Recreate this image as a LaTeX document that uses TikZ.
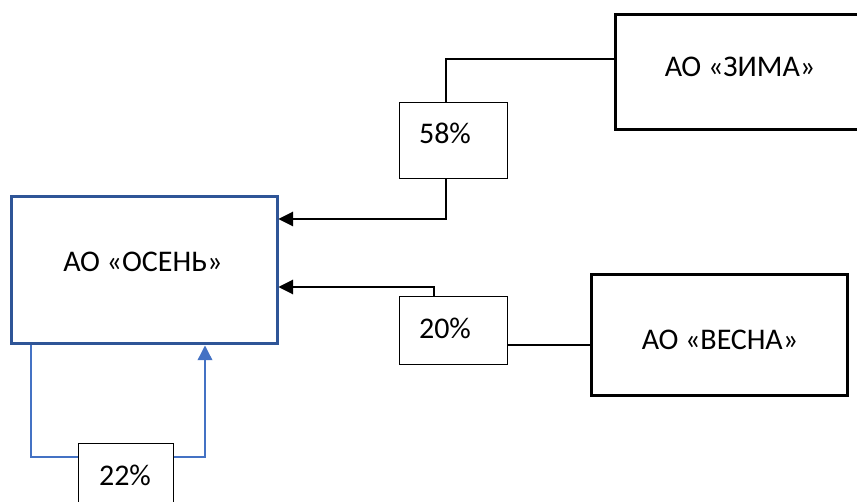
\documentclass[tikz,border=0pt]{standalone}
\usepackage{fontspec}
\setmainfont{Carlito}
\usetikzlibrary{arrows.meta}
\definecolor{boxblue}{RGB}{47,85,151}
\definecolor{lineblue}{RGB}{68,114,196}
\tikzset{
  firm/.style={draw=black,line width=2.25pt,inner sep=0pt},
  share/.style={draw=black,line width=0.75pt,inner sep=0pt},
  label text/.style={inner sep=0pt,font=\fontsize{22.5}{27}\selectfont},
  link/.style={line width=0.8pt},
  tip/.style={-{Triangle[length=11pt,width=11pt]}}
}
\begin{document}
\begin{tikzpicture}[x=0.75pt,y=0.75pt,yscale=-1]
\useasboundingbox (0,0) rectangle (857,502);

%Shape: Rectangle [id:osen]
\node [firm,draw=boxblue,minimum width=266*0.75pt,minimum height=147*0.75pt] (osen) at (144,270.5) {};
%Shape: Rectangle [id:zima]
\node [firm,minimum width=260*0.75pt,minimum height=115*0.75pt] (zima) at (745,72.5) {};
%Shape: Rectangle [id:vesna]
\node [firm,minimum width=256*0.75pt,minimum height=120*0.75pt] (vesna) at (719,335) {};
%Shape: Rectangle [id:p58]
\node [share,minimum width=108*0.75pt,minimum height=76*0.75pt] (p58) at (453,141) {};
%Shape: Rectangle [id:p20]
\node [share,minimum width=108*0.75pt,minimum height=68*0.75pt] (p20) at (453,331) {};
%Shape: Rectangle [id:p22]
\node [share,minimum width=95*0.75pt,minimum height=67*0.75pt] (p22) at (125.5,476.5) {};

\coordinate (k58) at (446,59);
\coordinate (e58) at (0,219);
\coordinate (k20) at (434,287);
\coordinate (e20) at (0,345);
\coordinate (b1) at (31,457);
\coordinate (b2) at (205,457);

%Straight Lines [id:zima-p58]
\draw [link] (zima.west |- k58) -- (k58) -- (k58 |- p58.north) ;
%Straight Lines [id:p58-osen]
\draw [link,tip] (k58 |- p58.south) |- (osen.east |- e58) ;
%Straight Lines [id:vesna-p20]
\draw [link] (vesna.west |- e20) -- (p20.east |- e20) ;
%Straight Lines [id:p20-osen]
\draw [link,tip] (k20 |- p20.north) |- (osen.east |- k20) ;
%Straight Lines [id:osen-p22]
\draw [link,color=lineblue,line width=1pt] (osen.south -| b1) |- (p22.west |- b1) ;
%Straight Lines [id:p22-osen]
\draw [link,color=lineblue,line width=1pt,tip] (p22.east |- b2) -| (osen.south -| b2) ;

% Text Node
\node [label text] (tosen) at (143,262) {АО «ОСЕНЬ»};
% Text Node
\node [label text] (tzima) at (740,67) {АО «ЗИМА»};
% Text Node
\node [label text] (tvesna) at (720,340) {АО «ВЕСНА»};
% Text Node
\node [label text] (t58) at (445,133) {58\%};
% Text Node
\node [label text] (t20) at (445,328) {20\%};
% Text Node
\node [label text] (t22) at (125,475) {22\%};

\end{tikzpicture}
\end{document}
